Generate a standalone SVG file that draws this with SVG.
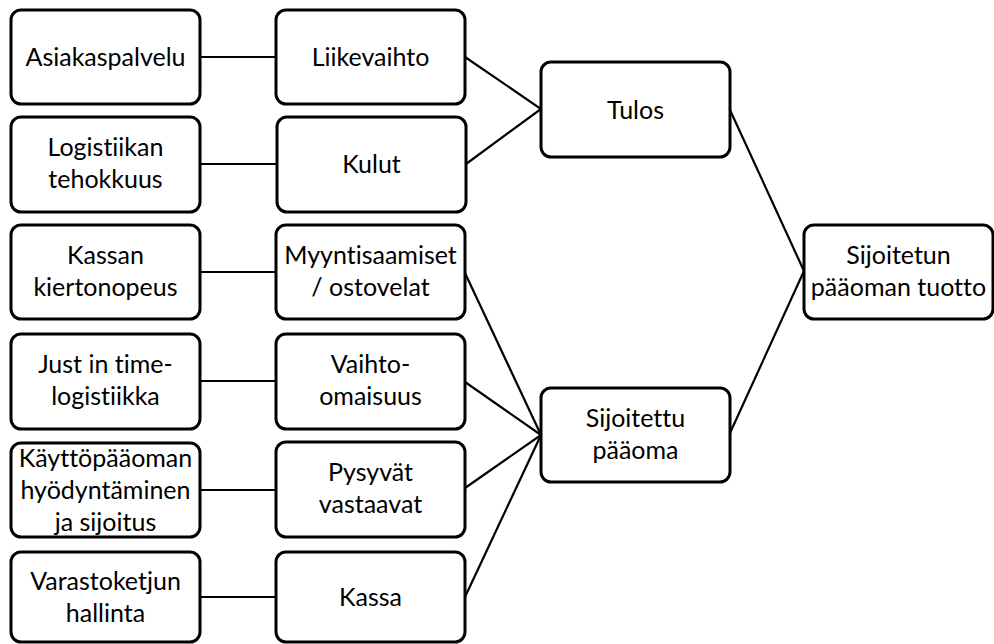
<svg xmlns="http://www.w3.org/2000/svg" width="994" height="644" viewBox="0 0 994 644">
  <style>
    .box { fill: #ffffff; stroke: #000000; stroke-width: 3; }
    .lbl { font-family: Lato, "Open Sans", "Liberation Sans", sans-serif; font-size: 25px; fill: #000000; text-anchor: middle; font-variant-ligatures: none; }
    .conn { stroke: #000000; stroke-width: 2.2; fill: none; }
  </style>
  <rect width="994" height="644" fill="#ffffff"/>

  <!-- connectors -->
  <g id="connectors">
    <line class="conn" x1="200" y1="57" x2="276" y2="57"/>
    <line class="conn" x1="200" y1="164" x2="276" y2="164"/>
    <line class="conn" x1="200" y1="272" x2="276" y2="272"/>
    <line class="conn" x1="200" y1="381" x2="276" y2="381"/>
    <line class="conn" x1="200" y1="490" x2="276" y2="490"/>
    <line class="conn" x1="200" y1="597" x2="276" y2="597"/>
    <polyline class="conn" points="465,57 541,109 466,164"/>
    <line class="conn" x1="465" y1="273" x2="541" y2="435"/>
    <line class="conn" x1="465" y1="382" x2="541" y2="435"/>
    <line class="conn" x1="465" y1="488" x2="541" y2="435"/>
    <line class="conn" x1="465" y1="597" x2="541" y2="435"/>
    <polyline class="conn" points="730,110 804,271 730,433"/>
  </g>

  <!-- left column -->
  <g id="asiakaspalvelu">
    <rect class="box" x="11" y="10" width="189" height="94" rx="10"/>
    <text class="lbl" x="105.5" y="66">Asiakaspalvelu</text>
  </g>
  <g id="logistiikan-tehokkuus">
    <rect class="box" x="11" y="117" width="189" height="95" rx="10"/>
    <text class="lbl" x="105.5" y="156">Logistiikan</text>
    <text class="lbl" x="105.5" y="188">tehokkuus</text>
  </g>
  <g id="kassan-kiertonopeus">
    <rect class="box" x="11" y="225" width="189" height="94" rx="10"/>
    <text class="lbl" x="105.5" y="264">Kassan</text>
    <text class="lbl" x="105.5" y="296">kiertonopeus</text>
  </g>
  <g id="just-in-time">
    <rect class="box" x="11" y="334" width="189" height="95" rx="10"/>
    <text class="lbl" x="105.5" y="373">Just in time-</text>
    <text class="lbl" x="105.5" y="405">logistiikka</text>
  </g>
  <g id="kayttopaaoma">
    <rect class="box" x="11" y="443" width="189" height="94" rx="10"/>
    <text class="lbl" x="105.5" y="467">Käyttöpääoman</text>
    <text class="lbl" x="105.5" y="499">hyödyntäminen</text>
    <text class="lbl" x="105.5" y="531">ja sijoitus</text>
  </g>
  <g id="varastoketju">
    <rect class="box" x="11" y="552" width="189" height="90" rx="10"/>
    <text class="lbl" x="105.5" y="590">Varastoketjun</text>
    <text class="lbl" x="105.5" y="622">hallinta</text>
  </g>

  <!-- middle column -->
  <g id="liikevaihto">
    <rect class="box" x="276" y="10" width="189" height="94" rx="10"/>
    <text class="lbl" x="370.5" y="66">Liikevaihto</text>
  </g>
  <g id="kulut">
    <rect class="box" x="277" y="117" width="189" height="95" rx="10"/>
    <text class="lbl" x="371.5" y="173">Kulut</text>
  </g>
  <g id="myyntisaamiset">
    <rect class="box" x="276" y="225" width="189" height="94" rx="10"/>
    <text class="lbl" x="370.5" y="264">Myyntisaamiset</text>
    <text class="lbl" x="370.5" y="296">/ ostovelat</text>
  </g>
  <g id="vaihto-omaisuus">
    <rect class="box" x="276" y="334" width="189" height="95" rx="10"/>
    <text class="lbl" x="370.5" y="373">Vaihto-</text>
    <text class="lbl" x="370.5" y="405">omaisuus</text>
  </g>
  <g id="pysyvat-vastaavat">
    <rect class="box" x="276" y="442" width="189" height="95" rx="10"/>
    <text class="lbl" x="370.5" y="481">Pysyvät</text>
    <text class="lbl" x="370.5" y="513">vastaavat</text>
  </g>
  <g id="kassa">
    <rect class="box" x="276" y="552" width="189" height="90" rx="10"/>
    <text class="lbl" x="370.5" y="606">Kassa</text>
  </g>

  <!-- aggregates -->
  <g id="tulos">
    <rect class="box" x="541" y="62" width="189" height="95" rx="10"/>
    <text class="lbl" x="635.5" y="119">Tulos</text>
  </g>
  <g id="sijoitettu-paaoma">
    <rect class="box" x="541" y="388" width="189" height="94" rx="10"/>
    <text class="lbl" x="635.5" y="427">Sijoitettu</text>
    <text class="lbl" x="635.5" y="459">pääoma</text>
  </g>
  <g id="sijoitetun-paaoman-tuotto">
    <rect class="box" x="804" y="225" width="189" height="94" rx="10"/>
    <text class="lbl" x="898.5" y="264">Sijoitetun</text>
    <text class="lbl" x="898.5" y="296">pääoman tuotto</text>
  </g>
</svg>
